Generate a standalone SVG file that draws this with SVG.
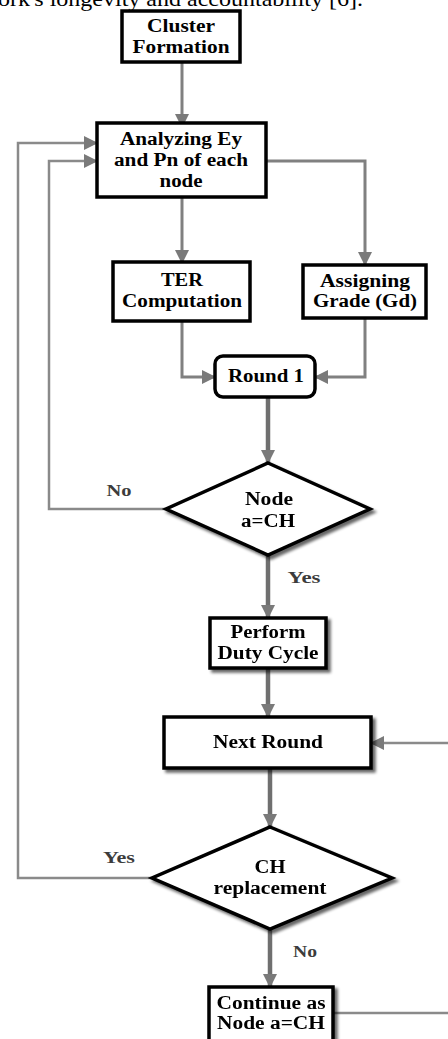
<svg xmlns="http://www.w3.org/2000/svg" width="448" height="1039" viewBox="0 0 448 1039">
<defs>
<style>
.box{fill:#fff;stroke:#000;stroke-width:3.5}
.t{font-family:"Liberation Serif","Times New Roman",serif;font-weight:bold;font-size:18px;fill:#000;text-anchor:middle}
.lbl{font-family:"Liberation Serif","Times New Roman",serif;font-weight:bold;font-size:17px;fill:#3c3c3c;text-anchor:middle}
.c{fill:none;stroke:#808080;stroke-width:3}
.c2{fill:none;stroke:#8a8a8a;stroke-width:2.5}
.ck{fill:none;stroke:#6f6f6f;stroke-width:4.5}
.hdr{font-family:"Liberation Serif","Times New Roman",serif;font-size:21px;fill:#000}
</style>
<marker id="ah" viewBox="0 0 14 14" markerWidth="14" markerHeight="14" refX="13" refY="7" orient="auto" markerUnits="userSpaceOnUse">
<path d="M0,0 L14,7 L0,14 z" fill="#7a7a7a"/>
</marker>
<filter id="sh" x="-10%" y="-10%" width="125%" height="130%">
<feGaussianBlur in="SourceAlpha" stdDeviation="1.8"/>
<feOffset dx="3" dy="3" result="b"/>
<feComponentTransfer><feFuncA type="linear" slope="0.6"/></feComponentTransfer>
<feMerge><feMergeNode/><feMergeNode in="SourceGraphic"/></feMerge>
</filter>
</defs>
<rect width="448" height="1039" fill="#fff"/>
<text class="hdr" x="-2" y="6" textLength="365" lengthAdjust="spacingAndGlyphs">ork's longevity and accountability [6].</text>

<g id="connectors">
<path class="c" d="M182,62 V127" marker-end="url(#ah)"/>
<path class="c" d="M182,197 V263" marker-end="url(#ah)"/>
<path class="c" d="M266,161 H365 V265" marker-end="url(#ah)"/>
<path class="c" d="M182,321 V377 H215" marker-end="url(#ah)"/>
<path class="c" d="M365,318 V377 H315" marker-end="url(#ah)"/>
<path class="ck" d="M268,397 V463" marker-end="url(#ah)"/>
<path class="c2" d="M166,509 H49 V161 H97" marker-end="url(#ah)"/>
<path class="ck" d="M268,555 V618" marker-end="url(#ah)"/>
<path class="ck" d="M268,668 V717" marker-end="url(#ah)"/>
<path class="c2" d="M448,743 H371" marker-end="url(#ah)"/>
<path class="ck" d="M270,768 V827" marker-end="url(#ah)"/>
<path class="c2" d="M152,878 H18 V143 H97" marker-end="url(#ah)"/>
<path class="ck" d="M270,929 V987" marker-end="url(#ah)"/>
<path class="c2" d="M333,1013 H448"/>
</g>

<g id="n-cluster">
<rect class="box" x="122" y="11" width="118" height="51"/>
<text class="t" x="181" y="32" textLength="68" lengthAdjust="spacingAndGlyphs">Cluster</text>
<text class="t" x="181" y="53" textLength="97" lengthAdjust="spacingAndGlyphs">Formation</text>
</g>
<g id="n-analyze">
<rect class="box" x="97" y="123" width="169" height="74"/>
<text class="t" x="181" y="145" textLength="122" lengthAdjust="spacingAndGlyphs">Analyzing Ey</text>
<text class="t" x="181" y="166" textLength="134" lengthAdjust="spacingAndGlyphs">and Pn of each</text>
<text class="t" x="181" y="187" textLength="43" lengthAdjust="spacingAndGlyphs">node</text>
</g>
<g id="n-ter">
<rect class="box" x="113" y="262" width="137" height="59"/>
<text class="t" x="182" y="286" textLength="42" lengthAdjust="spacingAndGlyphs">TER</text>
<text class="t" x="182" y="307" textLength="120" lengthAdjust="spacingAndGlyphs">Computation</text>
</g>
<g id="n-grade">
<rect class="box" x="303" y="265" width="123" height="53"/>
<text class="t" x="365" y="287" textLength="90" lengthAdjust="spacingAndGlyphs">Assigning</text>
<text class="t" x="365" y="307" textLength="104" lengthAdjust="spacingAndGlyphs">Grade (Gd)</text>
</g>
<g id="n-round1">
<rect class="box" x="215" y="356" width="100" height="41" rx="8"/>
<text class="t" x="266" y="382" textLength="76" lengthAdjust="spacingAndGlyphs">Round 1</text>
</g>
<g id="n-dec1" filter="url(#sh)">
<polygon class="box" points="268,463 370,509 268,555 166,509"/>
<text class="t" x="269" y="505" textLength="48" lengthAdjust="spacingAndGlyphs">Node</text>
<text class="t" x="268" y="527" textLength="54" lengthAdjust="spacingAndGlyphs">a=CH</text>
</g>
<g id="n-duty" filter="url(#sh)">
<rect class="box" x="210" y="618" width="116" height="50"/>
<text class="t" x="268" y="638" textLength="75" lengthAdjust="spacingAndGlyphs">Perform</text>
<text class="t" x="268" y="659" textLength="101" lengthAdjust="spacingAndGlyphs">Duty Cycle</text>
</g>
<g id="n-next" filter="url(#sh)">
<rect class="box" x="164" y="717" width="207" height="51"/>
<text class="t" x="268" y="748" textLength="110" lengthAdjust="spacingAndGlyphs">Next Round</text>
</g>
<g id="n-dec2" filter="url(#sh)">
<polygon class="box" points="270,827 392,878 270,929 152,878"/>
<text class="t" x="270" y="873" textLength="31" lengthAdjust="spacingAndGlyphs">CH</text>
<text class="t" x="270" y="894" textLength="113" lengthAdjust="spacingAndGlyphs">replacement</text>
</g>
<g id="n-continue" filter="url(#sh)">
<rect class="box" x="209" y="987" width="124" height="60"/>
<text class="t" x="271" y="1009" textLength="109" lengthAdjust="spacingAndGlyphs">Continue as</text>
<text class="t" x="271" y="1029" textLength="108" lengthAdjust="spacingAndGlyphs">Node a=CH</text>
</g>

<g id="labels">
<text class="lbl" x="119" y="496" textLength="25" lengthAdjust="spacingAndGlyphs">No</text>
<text class="lbl" x="304" y="583" textLength="33" lengthAdjust="spacingAndGlyphs">Yes</text>
<text class="lbl" x="119" y="863" textLength="32" lengthAdjust="spacingAndGlyphs">Yes</text>
<text class="lbl" x="305" y="957" textLength="24" lengthAdjust="spacingAndGlyphs">No</text>
</g>
</svg>
